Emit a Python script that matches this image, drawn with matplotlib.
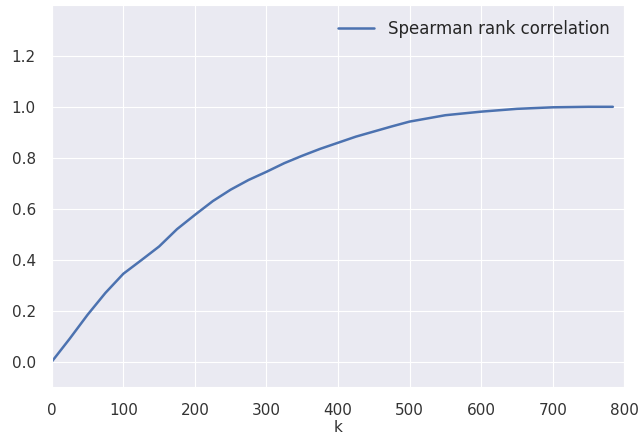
import numpy as np
import matplotlib
matplotlib.use("Agg")
import matplotlib.pyplot as plt
import seaborn as sns

# values
k_values = [0, 25, 50, 75, 100, 125, 150, 175, 200, 225, 250, 275, 300,
            325, 350, 375, 400, 425, 450, 475, 500, 550, 600, 650, 700,
            750, 784]
spearman = [0.0, 0.09, 0.184, 0.27, 0.345, 0.398, 0.452, 0.52, 0.576,
            0.63, 0.675, 0.713, 0.745, 0.779, 0.808, 0.835, 0.859, 0.883,
            0.903, 0.923, 0.942, 0.967, 0.981, 0.992, 0.998, 1.0, 1.0]

sns.set_style("darkgrid")
plt.rcParams['font.family'] = ['DejaVu Sans']

fig = plt.figure(figsize=(6.39, 4.40), dpi=100)
ax = fig.add_axes([0.081, 0.12, 0.896, 0.869])
ax.plot(k_values, spearman, color='#4C72B0', lw=1.8, label='Spearman rank correlation')
ax.set_xlim(0, 800)
ax.set_ylim(-0.1, 1.4)
ax.set_yticks([0.0, 0.2, 0.4, 0.6, 0.8, 1.0, 1.2])
ax.set_xlabel('k', fontsize=11, color='#333333', labelpad=1)
ax.tick_params(labelsize=11, colors='#333333', pad=8)
ax.legend(loc='upper right', fontsize=12, frameon=False, handlelength=2.2)
fig.savefig('out.png', dpi=100)
